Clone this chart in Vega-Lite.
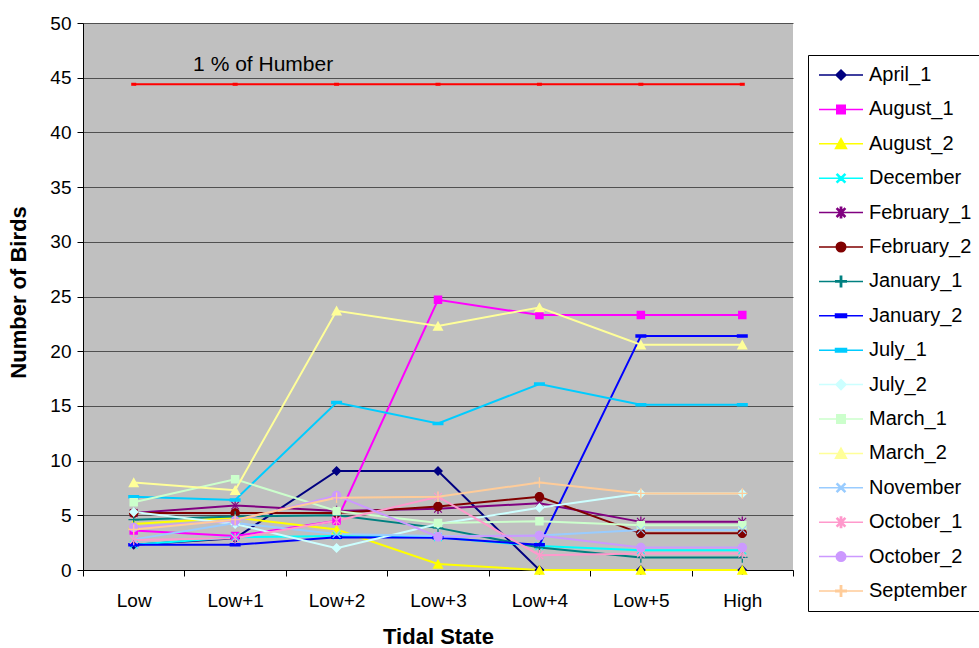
{
  "$schema": "https://vega.github.io/schema/vega-lite/v6.json",
  "width": 710,
  "height": 547,
  "autosize": {"type": "none"},
  "padding": {"left": 83, "top": 23, "right": 186, "bottom": 78},
  "background": "white",
  "config": {
    "font": "Liberation Sans",
    "view": {"fill": "#C0C0C0", "stroke": null}
  },
  "datasets": {
    "birds": [
      {"series": "April_1", "state": "Low", "value": 2.3},
      {"series": "April_1", "state": "Low+1", "value": 2.9},
      {"series": "April_1", "state": "Low+2", "value": 9.05},
      {"series": "April_1", "state": "Low+3", "value": 9.05},
      {"series": "April_1", "state": "Low+4", "value": 0},
      {"series": "April_1", "state": "Low+5", "value": 0},
      {"series": "April_1", "state": "High", "value": 0},
      {"series": "August_1", "state": "Low", "value": 3.6},
      {"series": "August_1", "state": "Low+1", "value": 3.1},
      {"series": "August_1", "state": "Low+2", "value": 4.5},
      {"series": "August_1", "state": "Low+3", "value": 24.7},
      {"series": "August_1", "state": "Low+4", "value": 23.3},
      {"series": "August_1", "state": "Low+5", "value": 23.3},
      {"series": "August_1", "state": "High", "value": 23.3},
      {"series": "August_2", "state": "Low", "value": 4.2},
      {"series": "August_2", "state": "Low+1", "value": 4.8},
      {"series": "August_2", "state": "Low+2", "value": 3.7},
      {"series": "August_2", "state": "Low+3", "value": 0.55},
      {"series": "August_2", "state": "Low+4", "value": 0},
      {"series": "August_2", "state": "Low+5", "value": 0},
      {"series": "August_2", "state": "High", "value": 0},
      {"series": "December", "state": "Low", "value": 2.3},
      {"series": "December", "state": "Low+1", "value": 3.0},
      {"series": "December", "state": "Low+2", "value": 3.1},
      {"series": "December", "state": "Low+3", "value": 3.0},
      {"series": "December", "state": "Low+4", "value": 2.2},
      {"series": "December", "state": "Low+5", "value": 1.8},
      {"series": "December", "state": "High", "value": 1.8},
      {"series": "February_1", "state": "Low", "value": 5.2},
      {"series": "February_1", "state": "Low+1", "value": 5.9},
      {"series": "February_1", "state": "Low+2", "value": 5.4},
      {"series": "February_1", "state": "Low+3", "value": 5.6},
      {"series": "February_1", "state": "Low+4", "value": 6.1},
      {"series": "February_1", "state": "Low+5", "value": 4.4},
      {"series": "February_1", "state": "High", "value": 4.4},
      {"series": "February_2", "state": "Low", "value": 5.2},
      {"series": "February_2", "state": "Low+1", "value": 5.2},
      {"series": "February_2", "state": "Low+2", "value": 5.2},
      {"series": "February_2", "state": "Low+3", "value": 5.8},
      {"series": "February_2", "state": "Low+4", "value": 6.7},
      {"series": "February_2", "state": "Low+5", "value": 3.35},
      {"series": "February_2", "state": "High", "value": 3.35},
      {"series": "January_1", "state": "Low", "value": 4.6},
      {"series": "January_1", "state": "Low+1", "value": 4.9},
      {"series": "January_1", "state": "Low+2", "value": 5.0},
      {"series": "January_1", "state": "Low+3", "value": 3.85},
      {"series": "January_1", "state": "Low+4", "value": 2.05},
      {"series": "January_1", "state": "Low+5", "value": 1.15},
      {"series": "January_1", "state": "High", "value": 1.15},
      {"series": "January_2", "state": "Low", "value": 2.3},
      {"series": "January_2", "state": "Low+1", "value": 2.3},
      {"series": "January_2", "state": "Low+2", "value": 3.0},
      {"series": "January_2", "state": "Low+3", "value": 2.95},
      {"series": "January_2", "state": "Low+4", "value": 2.3},
      {"series": "January_2", "state": "Low+5", "value": 21.4},
      {"series": "January_2", "state": "High", "value": 21.4},
      {"series": "July_1", "state": "Low", "value": 6.7},
      {"series": "July_1", "state": "Low+1", "value": 6.4},
      {"series": "July_1", "state": "Low+2", "value": 15.3},
      {"series": "July_1", "state": "Low+3", "value": 13.4},
      {"series": "July_1", "state": "Low+4", "value": 17.0},
      {"series": "July_1", "state": "Low+5", "value": 15.1},
      {"series": "July_1", "state": "High", "value": 15.1},
      {"series": "July_2", "state": "Low", "value": 5.3},
      {"series": "July_2", "state": "Low+1", "value": 4.2},
      {"series": "July_2", "state": "Low+2", "value": 2.0},
      {"series": "July_2", "state": "Low+3", "value": 4.2},
      {"series": "July_2", "state": "Low+4", "value": 5.7},
      {"series": "July_2", "state": "Low+5", "value": 7.0},
      {"series": "July_2", "state": "High", "value": 7.0},
      {"series": "March_1", "state": "Low", "value": 6.2},
      {"series": "March_1", "state": "Low+1", "value": 8.3},
      {"series": "March_1", "state": "Low+2", "value": 5.4},
      {"series": "March_1", "state": "Low+3", "value": 4.3},
      {"series": "March_1", "state": "Low+4", "value": 4.45},
      {"series": "March_1", "state": "Low+5", "value": 4.1},
      {"series": "March_1", "state": "High", "value": 4.1},
      {"series": "March_2", "state": "Low", "value": 8.0},
      {"series": "March_2", "state": "Low+1", "value": 7.3},
      {"series": "March_2", "state": "Low+2", "value": 23.7},
      {"series": "March_2", "state": "Low+3", "value": 22.3},
      {"series": "March_2", "state": "Low+4", "value": 24.0},
      {"series": "March_2", "state": "Low+5", "value": 20.6},
      {"series": "March_2", "state": "High", "value": 20.6},
      {"series": "November", "state": "Low", "value": 2.8},
      {"series": "November", "state": "Low+1", "value": 4.3},
      {"series": "November", "state": "Low+2", "value": 3.3},
      {"series": "November", "state": "Low+3", "value": 3.1},
      {"series": "November", "state": "Low+4", "value": 3.15},
      {"series": "November", "state": "Low+5", "value": 3.65},
      {"series": "November", "state": "High", "value": 3.65},
      {"series": "October_1", "state": "Low", "value": 2.75},
      {"series": "October_1", "state": "Low+1", "value": 2.9},
      {"series": "October_1", "state": "Low+2", "value": 4.5},
      {"series": "October_1", "state": "Low+3", "value": 6.7},
      {"series": "October_1", "state": "Low+4", "value": 1.35},
      {"series": "October_1", "state": "Low+5", "value": 1.5},
      {"series": "October_1", "state": "High", "value": 1.5},
      {"series": "October_2", "state": "Low", "value": 3.9},
      {"series": "October_2", "state": "Low+1", "value": 4.5},
      {"series": "October_2", "state": "Low+2", "value": 6.8},
      {"series": "October_2", "state": "Low+3", "value": 3.05},
      {"series": "October_2", "state": "Low+4", "value": 3.15},
      {"series": "October_2", "state": "Low+5", "value": 2.05},
      {"series": "October_2", "state": "High", "value": 2.05},
      {"series": "September", "state": "Low", "value": 3.7},
      {"series": "September", "state": "Low+1", "value": 4.6},
      {"series": "September", "state": "Low+2", "value": 6.6},
      {"series": "September", "state": "Low+3", "value": 6.7},
      {"series": "September", "state": "Low+4", "value": 8.0},
      {"series": "September", "state": "Low+5", "value": 7.0},
      {"series": "September", "state": "High", "value": 7.0}
    ],
    "humber": [
      {"state": "Low", "value": 44.4},
      {"state": "Low+1", "value": 44.4},
      {"state": "Low+2", "value": 44.4},
      {"state": "Low+3", "value": 44.4},
      {"state": "Low+4", "value": 44.4},
      {"state": "Low+5", "value": 44.4},
      {"state": "High", "value": 44.4}
    ],
    "note": [
      {"state": "Low+1", "value": 46.2, "label": "1 % of Humber"}
    ]
  },
  "encoding": {
    "x": {
      "field": "state",
      "type": "ordinal",
      "sort": ["Low", "Low+1", "Low+2", "Low+3", "Low+4", "Low+5", "High"],
      "bandPosition": 0.5,
      "scale": {"type": "band", "paddingInner": 0, "paddingOuter": 0},
      "axis": {
        "title": "Tidal State",
        "titleFont": "Liberation Sans",
        "titleFontSize": 22,
        "titleFontWeight": "bold",
        "titleColor": "black",
        "titleX": 355,
        "titleY": 66,
        "titleBaseline": "middle",
        "labelFont": "Liberation Sans",
        "labelFontSize": 19,
        "labelColor": "black",
        "labelAngle": 0,
        "labelPadding": 15,
        "tickBand": "extent",
        "tickColor": "black",
        "tickSize": 6,
        "domainColor": "black",
        "domainWidth": 1,
        "grid": false
      }
    },
    "y": {
      "field": "value",
      "type": "quantitative",
      "scale": {"domain": [0, 50], "nice": false},
      "axis": {
        "title": "Number of Birds",
        "titleFont": "Liberation Sans",
        "titleFontSize": 22,
        "titleFontWeight": "bold",
        "titleColor": "black",
        "titleX": -65,
        "titleY": 269,
        "titleBaseline": "middle",
        "values": [0, 5, 10, 15, 20, 25, 30, 35, 40, 45, 50],
        "labelFont": "Liberation Sans",
        "labelFontSize": 19,
        "labelColor": "black",
        "labelPadding": 6,
        "tickColor": "black",
        "tickSize": 6,
        "domainColor": "black",
        "domainWidth": 1,
        "grid": true,
        "gridColor": "#505050",
        "gridWidth": 1.2
      }
    }
  },
  "layer": [
    {
      "data": {"name": "birds"},
      "mark": {"type": "line", "strokeWidth": 2},
      "encoding": {
        "color": {
          "field": "series",
          "type": "nominal",
          "scale": {
            "domain": ["April_1", "August_1", "August_2", "December", "February_1", "February_2", "January_1", "January_2", "July_1", "July_2", "March_1", "March_2", "November", "October_1", "October_2", "September"],
            "range": ["#000080", "#FF00FF", "#FFFF00", "#00FFFF", "#800080", "#800000", "#008080", "#0000FF", "#00CCFF", "#CCFFFF", "#CCFFCC", "#FFFF99", "#99CCFF", "#FF99CC", "#CC99FF", "#FFCC99"]
          },
          "legend": {
            "orient": "none",
            "legendX": 725,
            "legendY": 32,
            "direction": "vertical",
            "title": null,
            "fillColor": "white",
            "strokeColor": "black",
            "padding": 10,
            "symbolSize": 100,
            "symbolOffset": 13,
            "symbolStrokeWidth": 1.5,
            "labelFont": "Liberation Sans",
            "labelFontSize": 20,
            "labelColor": "black",
            "labelOffset": 18,
            "rowPadding": 14.4
          }
        }
      }
    },
    {
      "data": {"name": "birds"},
      "mark": {"type": "point", "filled": true, "size": 100, "opacity": 1},
      "encoding": {
        "color": {"field": "series", "type": "nominal"},
        "shape": {
          "field": "series",
          "type": "nominal",
          "scale": {
            "domain": ["April_1", "August_1", "August_2", "December", "February_1", "February_2", "January_1", "January_2", "July_1", "July_2", "March_1", "March_2", "November", "October_1", "October_2", "September"],
            "range": [
              "M-4.4,0H4.4M0,-1L1,0L0,1L-1,0Z",
              "M-4.4,0H4.4M-0.85,-0.85H0.85V0.85H-0.85Z",
              "M-4.4,0H4.4M0,-1.05L1.1,0.95H-1.1Z",
              "M-4.4,0H4.4M-0.85,-0.7L-0.7,-0.85L0.85,0.7L0.7,0.85ZM-0.85,0.7L-0.7,0.85L0.85,-0.7L0.7,-0.85Z",
              "M-4.4,0H4.4M-0.85,-0.7L-0.7,-0.85L0.85,0.7L0.7,0.85ZM-0.85,0.7L-0.7,0.85L0.85,-0.7L0.7,-0.85ZM-0.13,-1.05H0.13V1.05H-0.13Z",
              "M-4.4,0H4.4M0.95,0A0.95,0.95,0,1,1,-0.95,0A0.95,0.95,0,1,1,0.95,0Z",
              "M-4.4,0H4.4M-1.05,-0.13H1.05V0.13H-1.05ZM-0.13,-1.05H0.13V1.05H-0.13Z",
              "M-4.4,0H4.4M-1.1,-0.35H1.1V0.35H-1.1Z",
              "M-4.4,0H4.4M-1.1,-0.35H1.1V0.35H-1.1Z",
              "M-4.4,0H4.4M0,-1L1,0L0,1L-1,0Z",
              "M-4.4,0H4.4M-0.85,-0.85H0.85V0.85H-0.85Z",
              "M-4.4,0H4.4M0,-1.05L1.1,0.95H-1.1Z",
              "M-4.4,0H4.4M-0.85,-0.7L-0.7,-0.85L0.85,0.7L0.7,0.85ZM-0.85,0.7L-0.7,0.85L0.85,-0.7L0.7,-0.85Z",
              "M-4.4,0H4.4M-0.85,-0.7L-0.7,-0.85L0.85,0.7L0.7,0.85ZM-0.85,0.7L-0.7,0.85L0.85,-0.7L0.7,-0.85ZM-0.13,-1.05H0.13V1.05H-0.13Z",
              "M-4.4,0H4.4M0.95,0A0.95,0.95,0,1,1,-0.95,0A0.95,0.95,0,1,1,0.95,0Z",
              "M-4.4,0H4.4M-1.05,-0.13H1.05V0.13H-1.05ZM-0.13,-1.05H0.13V1.05H-0.13Z"
            ]
          },
          "legend": null
        }
      }
    },
    {
      "data": {"name": "humber"},
      "mark": {"type": "line", "color": "#FF0000", "strokeWidth": 2},
      "encoding": {}
    },
    {
      "data": {"name": "humber"},
      "mark": {"type": "point", "filled": true, "color": "#FF0000", "opacity": 1, "size": 100, "shape": "M-0.5,-0.3H0.5V0.3H-0.5Z"},
      "encoding": {}
    },
    {
      "data": {"name": "note"},
      "mark": {"type": "text", "font": "Liberation Sans", "fontSize": 21, "color": "black", "align": "center", "baseline": "middle", "dx": 28},
      "encoding": {"text": {"field": "label"}}
    }
  ]
}
